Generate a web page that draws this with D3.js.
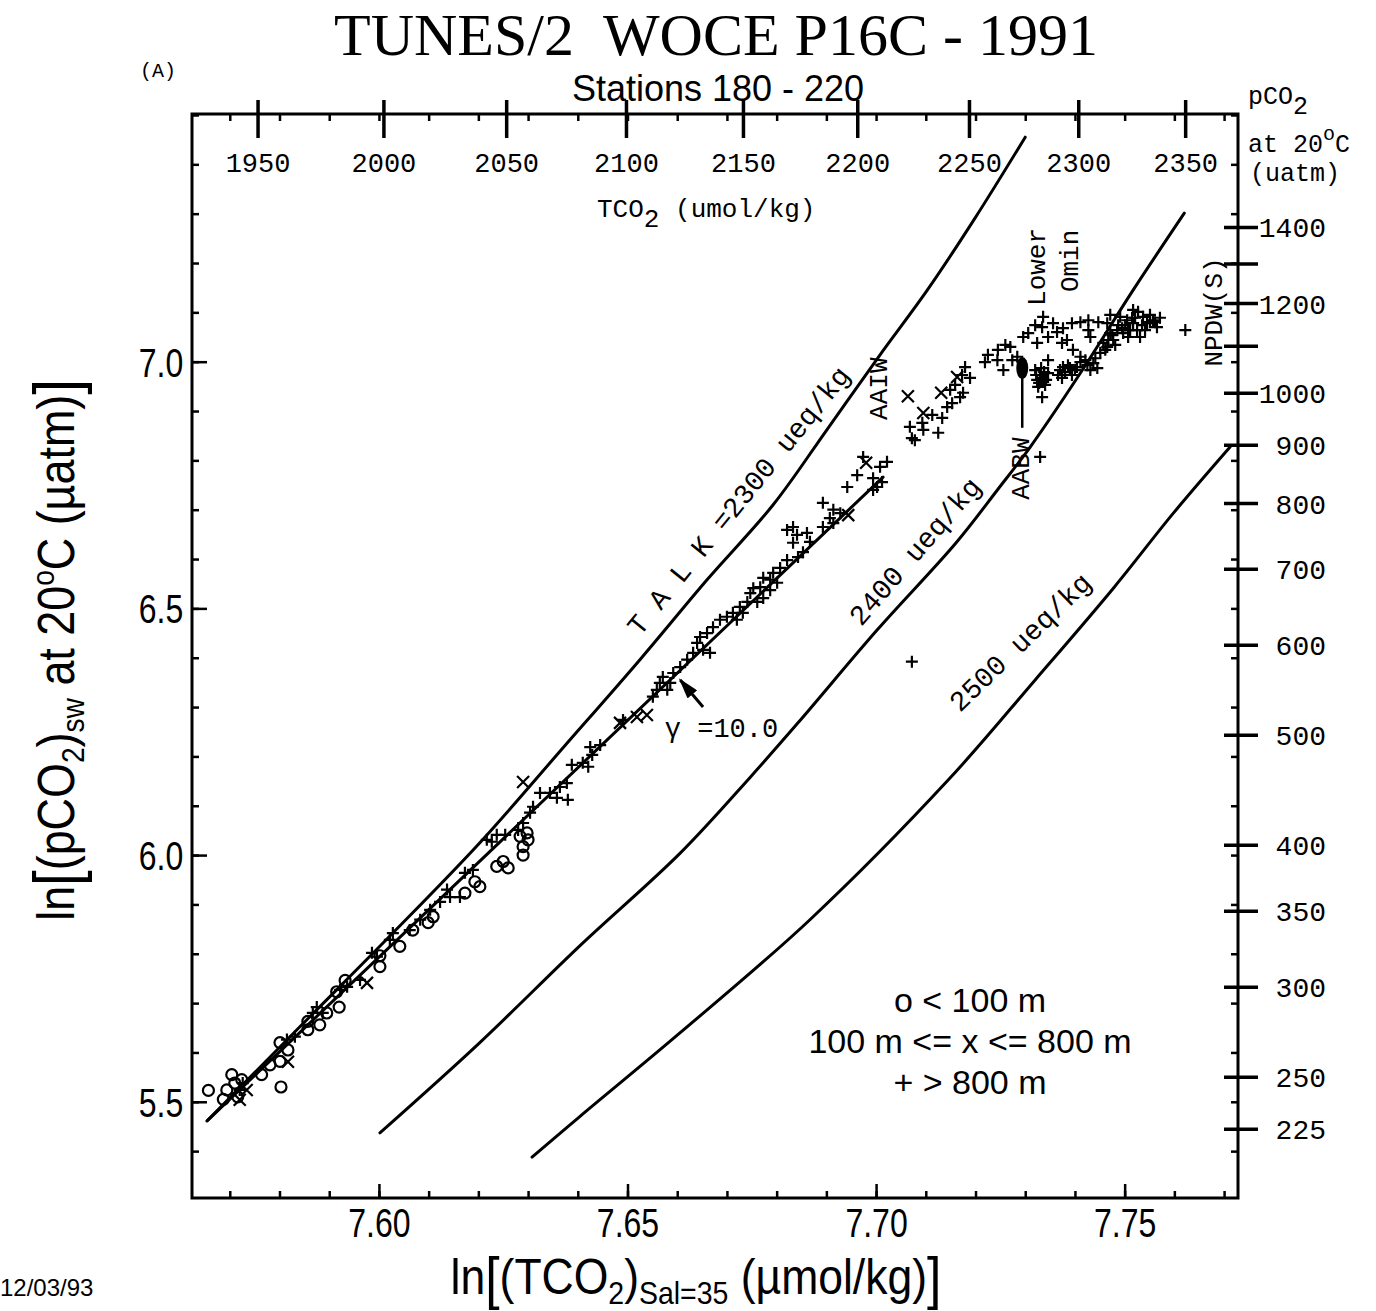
<!DOCTYPE html>
<html>
<head>
<meta charset="utf-8">
<script src="https://cdn.jsdelivr.net/npm/d3@7"></script>
<style>
  body { margin: 0; background: #fff; }
  svg { display: block; }
  .mono { font-family: "Liberation Mono", "DejaVu Sans Mono", monospace; }
  .sans { font-family: "Liberation Sans", Arial, sans-serif; }
  .serif { font-family: "Liberation Serif", "Times New Roman", serif; }
</style>
</head>
<body>
<div id="chart"></div>
<script>
// ---- data (ln TCO2, ln pCO2) ----
const circlePts = [
  [7.5657,5.523],[7.5687,5.505],[7.5694,5.524],[7.5704,5.555],[7.5710,5.538],[7.5724,5.545],[7.5716,5.510],
  [7.5764,5.555],[7.5781,5.575],[7.5801,5.620],[7.5801,5.582],[7.5803,5.530],[7.5817,5.605],[7.5857,5.663],
  [7.5857,5.646],[7.5881,5.656],[7.5895,5.680],[7.5915,5.723],[7.5920,5.692],[7.5932,5.746],[7.6002,5.774],
  [7.6002,5.796],[7.6042,5.815],[7.6068,5.848],[7.6099,5.863],[7.6109,5.875],[7.6173,5.923],[7.6193,5.946],
  [7.6203,5.936],[7.6237,5.977],[7.6250,5.987],[7.6260,5.974],[7.6290,6.000],[7.6284,6.038],[7.6300,6.031],
  [7.6298,6.045],[7.6290,6.017]
];
const crossPts = [
  [7.5720,5.504],[7.5734,5.524],[7.5817,5.581],[7.5976,5.741],[7.6290,6.148],[7.6485,6.268],[7.6519,6.280],
  [7.6539,6.284],[7.6944,6.689],[7.6980,6.795],[7.7064,6.930],[7.7131,6.937],[7.7095,6.896],[7.7163,6.969]
];
const plusLower = [
  [7.5720,5.524],[7.5726,5.538],[7.5815,5.626],[7.5831,5.632],[7.5867,5.680],[7.5875,5.692],[7.5887,5.680],
  [7.5922,5.727],[7.5936,5.733],[7.5962,5.747],[7.5986,5.802],[7.5996,5.794],[7.6022,5.828],[7.6028,5.842],
  [7.6062,5.848],[7.6083,5.869],[7.6103,5.889],[7.6123,5.905],[7.6137,5.930],[7.6143,5.915],[7.6163,5.915],
  [7.6173,5.964],[7.6189,5.970],[7.6217,6.031],[7.6227,6.027],[7.6237,6.041],[7.6254,6.041],[7.6280,6.051],
  [7.6290,6.065],[7.6304,6.086],[7.6310,6.098],[7.6324,6.126],[7.6344,6.126],[7.6358,6.116],[7.6364,6.138],
  [7.6378,6.146],[7.6380,6.112],[7.6388,6.183],[7.6410,6.187],[7.6429,6.203],[7.6421,6.179],[7.6425,6.219],
  [7.6445,6.223],[7.6491,6.274]
];
const plusMiddle = [
  [7.6551,6.321],[7.6559,6.335],[7.6565,6.349],[7.6571,6.361],[7.6580,6.335],[7.6586,6.349],[7.6592,6.369],
  [7.6606,6.381],[7.6620,6.396],[7.6632,6.410],[7.6640,6.430],[7.6646,6.442],[7.6652,6.416],[7.6660,6.450],
  [7.6666,6.410],[7.6672,6.462],[7.6686,6.477],[7.6700,6.483],[7.6712,6.491],[7.6720,6.477],[7.6726,6.503],
  [7.6732,6.491],[7.6741,6.513],[7.6747,6.531],[7.6753,6.541],[7.6761,6.513],[7.6767,6.543],[7.6773,6.562],
  [7.6773,6.521],[7.6787,6.558],[7.6787,6.537],[7.6793,6.572],[7.6801,6.552],[7.6807,6.582],[7.6821,6.598],
  [7.6821,6.659],[7.6833,6.633],[7.6833,6.665],[7.6841,6.649],[7.6843,6.604],[7.6853,6.614],[7.6861,6.653],
  [7.6867,6.635],[7.6893,6.665],[7.6893,6.714],[7.6907,6.683],[7.6914,6.700],[7.6914,6.673],[7.6928,6.693],
  [7.6942,6.746],[7.6962,6.770],[7.6974,6.807],[7.6994,6.764],[7.6994,6.740],[7.7002,6.746],[7.7008,6.787],
  [7.7012,6.756],[7.7022,6.797],[7.7072,6.392]
];
const plusUpper = [
  [7.7068,6.868],[7.7072,6.845],[7.7078,6.841],[7.7093,6.876],[7.7095,6.862],[7.7113,6.892],[7.7133,6.886],
  [7.7125,6.856],[7.7143,6.908],[7.7153,6.916],[7.7169,6.928],[7.7175,6.937],[7.7149,6.943],[7.7159,6.953],
  [7.7179,6.989],[7.7189,6.967],[7.7173,6.973],
  [7.7219,6.999],[7.7225,7.014],[7.7245,7.024],[7.7244,7.003],[7.7256,6.983],[7.7260,7.034],[7.7274,7.003],
  [7.7284,7.010],[7.7270,7.030],
  [7.7296,7.050],[7.7306,7.058],[7.7320,7.074],[7.7336,7.091],[7.7334,7.070],[7.7346,7.050],[7.7324,7.038],
  [7.7356,7.078],[7.7364,7.060],[7.7376,7.068],[7.7384,7.044],[7.7374,7.038],[7.7394,7.078],[7.7411,7.080],
  [7.7427,7.084],[7.7427,7.064],[7.7431,7.050],[7.7447,7.080],[7.7471,7.095],[7.7465,7.078],[7.7396,7.024],
  [7.7411,7.010],
  [7.7320,6.983],[7.7324,6.963],[7.7334,6.967],[7.7336,6.959],[7.7326,6.949],[7.7346,7.003],[7.7334,6.928],
  [7.7346,6.977],[7.7330,6.973],[7.7340,6.953],
  [7.7322,6.973],[7.7338,6.979],[7.7342,6.963],[7.7328,6.957],[7.7332,6.987],
  [7.7370,6.983],[7.7380,6.979],[7.7386,6.993],[7.7394,6.973],[7.7404,6.989],[7.7411,6.999],[7.7425,6.993],
  [7.7437,6.997],[7.7445,6.987],[7.7374,6.967],[7.7390,6.987],
  [7.7376,6.989],[7.7400,6.983],[7.7421,7.003],[7.7431,6.983],[7.7366,6.973],
  [7.7451,7.018],[7.7465,7.030],[7.7477,7.044],[7.7485,7.064],[7.7497,7.058],[7.7505,7.084],[7.7517,7.078],
  [7.7525,7.064],[7.7537,7.091],[7.7545,7.078],[7.7557,7.084],[7.7565,7.070],[7.7517,7.105],[7.7491,7.091],
  [7.7471,7.058],[7.7457,7.038],[7.7507,7.050],[7.7531,7.050],[7.7501,7.074],[7.7541,7.064],[7.7551,7.095],
  [7.7511,7.064],[7.7487,7.074],[7.7521,7.089],[7.7561,7.080],[7.7461,7.024],[7.7481,7.034],[7.7441,7.007],
  [7.7475,7.054],[7.7495,7.068],[7.7515,7.089],[7.7535,7.074],[7.7551,7.080],[7.7507,7.064],[7.7527,7.101],
  [7.7571,7.089],[7.7467,7.044],
  [7.7622,7.064],[7.7330,6.807]
];

// alkalinity isolines
const talk2300 = [[7.5654,5.461],[7.5841,5.652],[7.6028,5.842],[7.6203,6.025],[7.6370,6.217],[7.6525,6.396],
  [7.6660,6.558],[7.6793,6.710],[7.6901,6.862],[7.7008,7.014],[7.7103,7.145],[7.7199,7.291],[7.7300,7.455]];
const talk2400 = [[7.6002,5.437],[7.6203,5.620],[7.6404,5.816],[7.6606,6.004],[7.6747,6.158],[7.6843,6.268],
  [7.7002,6.456],[7.7161,6.633],[7.7244,6.740],[7.7310,6.827],[7.7411,6.977],[7.7517,7.145],[7.7620,7.301]];
const talk2500 = [[7.6308,5.388],[7.6404,5.470],[7.6606,5.640],[7.6867,5.869],[7.7145,6.152],[7.7320,6.355],
  [7.7479,6.543],[7.7598,6.693],[7.7712,6.827]];
const gammaFit = [[7.5656,5.463],[7.7014,6.766]];
const gammaArrow = [[7.6652,6.300],[7.6606,6.355]];
const aabwPointer = [[7.7294,6.987],[7.7294,6.866]];

// axes
const xMajor = [7.60, 7.65, 7.70, 7.75];
const yMajor = [5.5, 6.0, 6.5, 7.0];
const tco2Ticks = [1950, 2000, 2050, 2100, 2150, 2200, 2250, 2300, 2350];
const pco2Ticks = [225, 250, 300, 350, 400, 500, 600, 700, 800, 900, 1000, 1100, 1200, 1300, 1400];
const pco2Labelled = [225, 250, 300, 350, 400, 500, 600, 700, 800, 900, 1000, 1200, 1400];

// annotations: [text, lnTCO2, lnpCO2, angle]
const notes = [
  ['T A L K =2300 ueq/kg', 7.6525, 6.442, -51],
  ['2400 ueq/kg', 7.6970, 6.462, -49],
  ['2500 ueq/kg', 7.7169, 6.288, -44],
  ['AAIW', 7.7022, 6.882, -90],
  ['AABW', 7.7308, 6.720, -90],
  ['Lower', 7.7340, 7.113, -90],
  ['Omin', 7.7406, 7.141, -90],
  ['NPDW(S)', 7.7696, 6.990, -90]
];
const legendLines = ['o < 100 m', '100 m <= x <= 800 m', '+ > 800 m'];

const W = 1376, H = 1311;
const L = 192, R = 1238, T = 114, B = 1198;

const svg = d3.select('#chart').append('svg')
  .attr('width', W).attr('height', H)
  .style('background', '#fff');

const x = d3.scaleLinear().domain([7.5624, 7.7728]).range([L, R]);
const y = d3.scaleLinear().domain([5.305, 7.502]).range([B, T]);
const xTop = d3.scaleLog().domain([Math.exp(7.5624), Math.exp(7.7728)]).range([L, R]);
const yRight = d3.scaleLog().domain([195.5, 1760]).range([B, T]);

const xMinor = d3.range(7.57, 7.771, 0.01).map(v => +v.toFixed(2));
const yMinor = d3.range(5.4, 7.51, 0.1).map(v => +v.toFixed(1));

function styleAxis(g) {
  g.select('.domain').remove();
  g.selectAll('.tick line').attr('stroke', '#000').attr('stroke-width', 2.5);
}

// bottom
svg.append('g').attr('transform', `translate(0,${B})`)
  .call(d3.axisBottom(x).tickValues(xMinor).tickSize(-7).tickFormat(''))
  .call(styleAxis);
svg.append('g').attr('transform', `translate(0,${B})`)
  .call(d3.axisBottom(x).tickValues(xMajor).tickSize(-14).tickFormat(d3.format('.2f')))
  .call(styleAxis)
  .call(g => g.selectAll('text')
    .attr('class', 'sans').attr('y', 39).attr('dy', null)
    .attr('font-size', 40).attr('fill', '#000')
    .attr('transform', 'scale(0.8,1)'));

// top mirror ticks + TCO2 axis
svg.append('g').attr('transform', `translate(0,${T})`)
  .call(d3.axisTop(x).tickValues(xMinor).tickSize(-7).tickFormat(''))
  .call(styleAxis);
svg.append('g').attr('transform', `translate(0,${T})`)
  .call(d3.axisTop(xTop).tickValues(tco2Ticks).tickSize(14).tickFormat(d3.format('d')))
  .call(styleAxis)
  .call(g => g.selectAll('.tick line').attr('y1', 24).attr('y2', -14).attr('stroke-width', 3.5))
  .call(g => g.selectAll('text')
    .attr('class', 'mono').attr('y', 58).attr('dy', null)
    .attr('font-size', 27).attr('fill', '#000'));

// left
svg.append('g').attr('transform', `translate(${L},0)`)
  .call(d3.axisLeft(y).tickValues(yMinor).tickSize(-7).tickFormat(''))
  .call(styleAxis);
svg.append('g').attr('transform', `translate(${L},0)`)
  .call(d3.axisLeft(y).tickValues(yMajor).tickSize(-15).tickFormat(d3.format('.1f')))
  .call(styleAxis)
  .call(g => g.selectAll('text')
    .attr('class', 'sans').attr('x', -11).attr('dy', '0.36em')
    .attr('font-size', 40).attr('fill', '#000')
    .attr('transform', 'scale(0.8,1)'));

// right mirror ticks + pCO2 axis
svg.append('g').attr('transform', `translate(${R},0)`)
  .call(d3.axisRight(y).tickValues(yMinor).tickSize(-7).tickFormat(''))
  .call(styleAxis);
svg.append('g').attr('transform', `translate(${R},0)`)
  .call(d3.axisRight(yRight).tickValues(pco2Ticks)
    .tickFormat(d => pco2Labelled.includes(d) ? d : ''))
  .call(styleAxis)
  .call(g => g.selectAll('.tick line').attr('x1', -14).attr('x2', 20).attr('stroke-width', 3.5))
  .call(g => g.selectAll('text')
    .attr('class', 'mono').attr('x', 88).attr('text-anchor', 'end').attr('dy', '0.36em')
    .attr('font-size', 28).attr('fill', '#000'));

// frame
svg.append('rect')
  .attr('x', L).attr('y', T).attr('width', R - L).attr('height', B - T)
  .attr('fill', 'none').attr('stroke', '#000').attr('stroke-width', 3);

// isolines
const line = d3.line().x(d => x(d[0])).y(d => y(d[1])).curve(d3.curveCatmullRom.alpha(0.5));
svg.append('g').selectAll('path')
  .data([talk2300, talk2400, talk2500, gammaFit])
  .join('path')
  .attr('d', line)
  .attr('fill', 'none').attr('stroke', '#000').attr('stroke-width', 3)
  .attr('stroke-linecap', 'round');

// markers
const pts = svg.append('g').attr('stroke', '#000').attr('fill', 'none').attr('stroke-width', 2.2);
pts.selectAll('circle')
  .data(circlePts).join('circle')
  .attr('cx', d => x(d[0])).attr('cy', d => y(d[1])).attr('r', 5.5);
pts.selectAll('path.cross')
  .data(crossPts).join('path').attr('class', 'cross')
  .attr('transform', d => `translate(${x(d[0])},${y(d[1])})`)
  .attr('d', 'M-6,-6L6,6M-6,6L6,-6');
pts.selectAll('path.plus')
  .data(plusLower.concat(plusMiddle, plusUpper)).join('path').attr('class', 'plus')
  .attr('transform', d => `translate(${x(d[0])},${y(d[1])})`)
  .attr('d', 'M-6,0H6M0,-6V6');

// gamma arrow
svg.append('defs').append('marker')
  .attr('id', 'arr').attr('viewBox', '0 0 10 6').attr('refX', 9).attr('refY', 3)
  .attr('markerWidth', 7).attr('markerHeight', 4.2).attr('orient', 'auto')
  .append('path').attr('d', 'M0,0L10,3L0,6Z').attr('fill', '#000');
svg.append('path')
  .attr('d', d3.line().x(d => x(d[0])).y(d => y(d[1]))(gammaArrow))
  .attr('stroke', '#000').attr('stroke-width', 3).attr('marker-end', 'url(#arr)');
svg.append('text').attr('class', 'mono')
  .attr('x', x(7.6575)).attr('y', y(6.240)).attr('font-size', 27)
  .text('\u03b3 =10.0');

// AABW pointer
svg.append('line')
  .attr('x1', x(aabwPointer[0][0])).attr('y1', y(aabwPointer[0][1]))
  .attr('x2', x(aabwPointer[1][0])).attr('y2', y(aabwPointer[1][1]))
  .attr('stroke', '#000').attr('stroke-width', 2.5);
svg.append('ellipse')
  .attr('cx', x(aabwPointer[0][0])).attr('cy', y(aabwPointer[0][1]))
  .attr('rx', 6).attr('ry', 11).attr('fill', '#000');

// rotated notes
svg.append('g').selectAll('text')
  .data(notes).join('text')
  .attr('class', 'mono')
  .attr('font-size', d => d[0].length > 8 ? 28 : 26)
  .attr('transform', d => `translate(${x(d[1])},${y(d[2])}) rotate(${d[3]})`)
  .text(d => d[0]);

// titles
svg.append('text').attr('class', 'serif')
  .attr('x', 716).attr('y', 55).attr('text-anchor', 'middle')
  .attr('font-size', 60).attr('xml:space', 'preserve')
  .text('TUNES/2  WOCE P16C - 1991');
svg.append('text').attr('class', 'mono')
  .attr('x', 140).attr('y', 77).attr('font-size', 20).text('(A)');
svg.append('text').attr('class', 'sans')
  .attr('x', 718).attr('y', 101).attr('text-anchor', 'middle')
  .attr('font-size', 36).text('Stations 180 - 220');

// TCO2 label
const tl = svg.append('text').attr('class', 'mono').attr('x', 597).attr('y', 217).attr('font-size', 26);
tl.append('tspan').text('TCO');
tl.append('tspan').attr('dy', 10).text('2');
tl.append('tspan').attr('dy', -10).text(' (umol/kg)');

// pCO2 right label
const rl = svg.append('g').attr('class', 'mono').attr('font-size', 25);
const r1 = rl.append('text').attr('x', 1248).attr('y', 104);
r1.append('tspan').text('pCO');
r1.append('tspan').attr('dy', 10).text('2');
const r2 = rl.append('text').attr('x', 1248).attr('y', 152);
r2.append('tspan').text('at 20');
r2.append('tspan').attr('dy', -12).attr('font-size', 20).text('o');
r2.append('tspan').attr('dy', 12).text('C');
rl.append('text').attr('x', 1250).attr('y', 181).text('(uatm)');

// bottom axis title
const bt = svg.append('text').attr('class', 'sans')
  .attr('text-anchor', 'middle').attr('font-size', 50)
  .attr('transform', 'translate(696,1294) scale(0.89,1)');
bt.append('tspan').text('ln');
bt.append('tspan').attr('font-size', 58).attr('dy', 4).text('[');
bt.append('tspan').attr('dy', -4).text('(TCO');
bt.append('tspan').attr('font-size', 32).attr('dy', 10).text('2');
bt.append('tspan').attr('dy', -10).text(')');
bt.append('tspan').attr('font-size', 32).attr('dy', 10).text('Sal=35');
bt.append('tspan').attr('dy', -10).text(' (\u00b5mol/kg)');
bt.append('tspan').attr('font-size', 58).attr('dy', 4).text(']');

// left axis title
const lt = svg.append('text').attr('class', 'sans')
  .attr('text-anchor', 'middle').attr('font-size', 51)
  .attr('transform', 'translate(74,650) rotate(-90) scale(0.88,1)');
lt.append('tspan').text('ln');
lt.append('tspan').attr('font-size', 64).attr('dy', 5).text('[');
lt.append('tspan').attr('dy', -5).text('(pCO');
lt.append('tspan').attr('font-size', 32).attr('dy', 10).text('2');
lt.append('tspan').attr('dy', -10).text(')');
lt.append('tspan').attr('font-size', 32).attr('dy', 10).text('sw');
lt.append('tspan').attr('dy', -10).text(' at 20');
lt.append('tspan').attr('font-size', 32).attr('dy', -20).text('o');
lt.append('tspan').attr('dy', 20).text('C (\u00b5atm)');
lt.append('tspan').attr('font-size', 64).attr('dy', 5).text(']');

// legend
svg.append('g').selectAll('text')
  .data(legendLines).join('text')
  .attr('class', 'sans').attr('text-anchor', 'middle')
  .attr('x', 970).attr('y', (d, i) => 1012 + i * 41)
  .attr('font-size', 34)
  .text(d => d);

// date stamp
svg.append('text').attr('class', 'sans')
  .attr('x', 0).attr('y', 1296).attr('font-size', 24)
  .text('12/03/93');
</script>
</body>
</html>
